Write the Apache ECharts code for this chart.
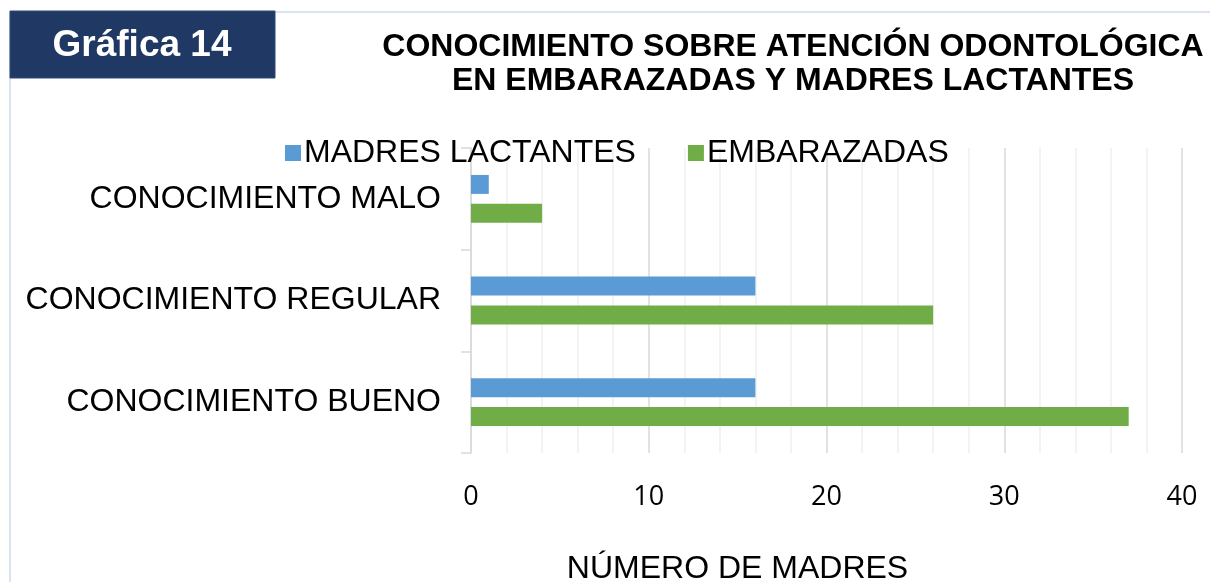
<!DOCTYPE html>
<html lang="es">
<head>
  <meta charset="UTF-8">
  <title>Gráfica 14</title>
  <style>
    html, body { margin: 0; padding: 0; background: #fff; }
    #chart { width: 1210px; height: 582px; }
  </style>
</head>
<body>
  <div id="chart"></div>
  <script src="https://cdn.jsdelivr.net/npm/echarts@6/dist/echarts.min.js"></script>
  <script>
    // datos
    const categorias = ['CONOCIMIENTO MALO', 'CONOCIMIENTO REGULAR', 'CONOCIMIENTO BUENO']
    const madresLactantes = [1, 16, 16]
    const embarazadas = [4, 26, 37]
    const ejeX = { min: 0, max: 40, interval: 10 }

    let myChart = echarts.init(document.getElementById('chart'))
    let option = {
      animation: false,
      textStyle: { fontFamily: 'Liberation Sans, Arial, sans-serif' },
      title: {
        text: 'CONOCIMIENTO SOBRE ATENCIÓN ODONTOLÓGICA\nEN EMBARAZADAS Y MADRES LACTANTES',
        left: 788,
        top: 25,
        textAlign: 'center',
        textStyle: { fontSize: 32, fontWeight: 'bold', color: '#000', lineHeight: 34 }
      },
      graphic: [
        // marco de la pagina
        { type: 'polyline', shape: { points: [[10, 582], [10, 12], [1210, 12]] }, style: { stroke: '#dae3f3', lineWidth: 2, fill: null }, z: 0 },
        { type: 'rect', shape: { x: 10, y: 11, width: 265, height: 67 }, style: { fill: '#203864', stroke: '#2f4a7a', lineWidth: 1 }, z: 1 },
        { type: 'text', x: 142, y: 46, style: { text: 'Gráfica 14', fill: '#fff', font: 'bold 37px Liberation Sans, Arial, sans-serif', align: 'center', verticalAlign: 'middle' }, z: 2 }
      ],
      legend: {
        top: 132,
        left: 280,
        itemWidth: 16,
        itemHeight: 16,
        itemGap: 52,
        icon: 'rect',
        textStyle: { fontSize: 32, color: '#000', padding: [0, 0, 0, -2] },
        data: ['MADRES LACTANTES', 'EMBARAZADAS']
      },
      grid: { left: 471, right: 28, top: 148, bottom: 129, outerBoundsMode: 'none' },
      xAxis: {
        type: 'value',
        min: ejeX.min,
        max: ejeX.max,
        interval: ejeX.interval,
        name: 'NÚMERO DE MADRES',
        nameLocation: 'middle',
        nameGap: 100,
        nameTextStyle: { fontSize: 32, color: '#000', padding: [0, 178, 0, 0] },
        axisLine: { show: false },
        axisTick: { show: false },
        axisLabel: { fontSize: 27, color: '#000', margin: 31, fontFamily: 'Open Sans, sans-serif' },
        splitLine: { show: true, lineStyle: { color: '#d9d9d9', width: 1.5 } },
        minorTick: { show: false, splitNumber: 5 },
        minorSplitLine: { show: true, lineStyle: { color: '#efefef', width: 1.5 } }
      },
      yAxis: {
        type: 'category',
        inverse: true,
        data: categorias,
        axisLine: { show: true, lineStyle: { color: '#d9d9d9', width: 1.5 } },
        axisTick: { show: true, length: 10, lineStyle: { color: '#d9d9d9', width: 1.5 } },
        axisLabel: { fontSize: 32, color: '#000', margin: 30 }
      },
      series: [
        {
          name: 'MADRES LACTANTES',
          type: 'bar',
          data: madresLactantes,
          itemStyle: { color: '#5b9bd5' },
          barGap: '52%',
          barCategoryGap: '53%'
        },
        {
          name: 'EMBARAZADAS',
          type: 'bar',
          data: embarazadas,
          itemStyle: { color: '#70ad47' },
          barGap: '52%',
          barCategoryGap: '53%'
        }
      ]
    }
    myChart.setOption(option)
  </script>
</body>
</html>
